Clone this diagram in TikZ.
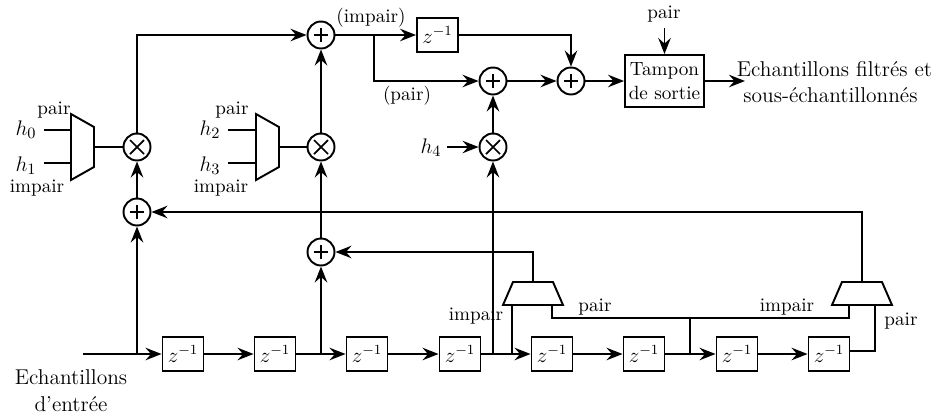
\documentclass[tikz,border=0pt]{standalone}
\usepackage{amsmath}
\usetikzlibrary{arrows.meta,calc}
\tikzset{
  wire/.style={line width=1.1pt},
  flow/.style={wire,-{Stealth[length=3.2mm,width=2.5mm,inset=1.1mm]}},
  thinflow/.style={line width=0.7pt,-{Stealth[length=3.2mm,width=2.5mm,inset=1.1mm]}},
  delay/.style={draw,line width=1.1pt,minimum width=0.82cm,minimum height=0.68cm,inner sep=0pt,font=\large},% z^-1 box
  plusnode/.style={circle,draw,line width=1.1pt,minimum size=0.54cm,inner sep=0pt,
    path picture={\draw[line width=1pt] ($(path picture bounding box.center)+(-7,0)$) -- ($(path picture bounding box.center)+(7,0)$)
      ($(path picture bounding box.center)+(0,-7)$) -- ($(path picture bounding box.center)+(0,7)$);}},
  timesnode/.style={circle,draw,line width=1.1pt,minimum size=0.54cm,inner sep=0pt,
    path picture={\draw[line width=1pt] ($(path picture bounding box.center)+(-7,-7)$) -- ($(path picture bounding box.center)+(7,7)$)
      ($(path picture bounding box.center)+(-7,7)$) -- ($(path picture bounding box.center)+(7,-7)$);}},
  tampon/.style={draw,line width=1.1pt,minimum width=1.58cm,minimum height=1.04cm,inner sep=0pt,align=center,font=\fontsize{10.9}{13}\selectfont},
  lab/.style={inner sep=0pt,font=\fontsize{10.9}{13}\selectfont},
  biglab/.style={inner sep=0pt,font=\fontsize{12.2}{15}\selectfont},
}
\newcommand{\muxv}[3]{% name, x, y : opens to the right
  \draw[wire] (#2,#3-33) -- (#2+23,#3-20) -- (#2+23,#3+20) -- (#2,#3+33) -- cycle;
  \coordinate (#1-a) at (#2,#3-17);
  \coordinate (#1-b) at (#2,#3+16);
  \coordinate (#1-out) at (#2+23,#3);
}
\newcommand{\muxh}[2]{% name, x centre : output on top
  \draw[wire] (#2-20,282) -- (#2+20,282) -- (#2+30,305) -- (#2-30,305) -- cycle;
  \coordinate (#1-out) at (#2,282);
}
\begin{document}
\begin{tikzpicture}[x=0.02cm,y=-0.02cm]
  \useasboundingbox (0,0) rectangle (938,417);
  % delay line
  \foreach \n/\x in {1/183,2/275,3/367,4/460,5/552,6/644,7/737,8/829}
    \node[delay] (d\n) at (\x,354) {$z^{-1}$};
  \node[delay] (dtop) at (437.5,35) {$z^{-1}$};
  \node[tampon] (buf) at (664.5,81) {Tampon\\[1pt]de sortie};
  % adders and multipliers
  \node[plusnode] (s1) at (321,35) {};
  \node[plusnode] (s2) at (493,81) {};
  \node[plusnode] (s3) at (571,81) {};
  \node[plusnode] (s4) at (137,212) {};
  \node[plusnode] (s5) at (321,252) {};
  \node[timesnode] (m0) at (137,147) {};
  \node[timesnode] (m1) at (321,147) {};
  \node[timesnode] (m2) at (493,147) {};
  % multiplexers
  \muxv{ma}{71}{147}
  \muxv{mb}{256}{147}
  \muxh{mc}{533}
  \muxh{md}{862}
  % free ends and junctions
  \coordinate (in) at (83,354);
  \coordinate (j1) at (137,354);
  \coordinate (j2) at (321,354);
  \coordinate (j3) at (493,354);
  \coordinate (j4) at (512,354);
  \coordinate (j5) at (690,354);
  \coordinate (odd) at (374,35);
  \coordinate (h0e) at (44,130);
  \coordinate (h1e) at (44,163);
  \coordinate (h2e) at (228,130);
  \coordinate (h3e) at (228,163);
  \coordinate (h4e) at (447,147);
  \coordinate (pe) at (664.5,28);
  \coordinate (oe) at (745,81);
  \coordinate (last) at (875,351);
  % delay line wires
  \draw[wire] (in) -- (j1);
  \draw[flow] (j1) -- (d1);
  \foreach \a/\b in {1/2,2/3,3/4,4/5,5/6,6/7,7/8} \draw[flow] (d\a) -- (d\b);
  % left branch
  \draw[flow] (j1) -- (s4);
  \draw[flow] (s4) -- (m0);
  \draw[flow] (m0) |- (s1);
  \draw[wire] (h0e) -- (ma-a);
  \draw[wire] (h1e) -- (ma-b);
  \draw[wire] (ma-out) -- (m0);
  % middle branch
  \draw[flow] (j2) -- (s5);
  \draw[flow] (s5) -- (m1);
  \draw[flow] (m1) -- (s1);
  \draw[wire] (h2e) -- (mb-a);
  \draw[wire] (h3e) -- (mb-b);
  \draw[wire] (mb-out) -- (m1);
  % right branch
  \draw[flow] (j3) -- (m2);
  \draw[flow] (m2) -- (s2);
  \draw[thinflow] (h4e) -- (m2);
  % output part
  \draw[flow] (s1) -- (dtop);
  \draw[flow] (odd) |- (s2);
  \draw[flow] (dtop) -| (s3);
  \draw[flow] (s2) -- (s3);
  \draw[flow] (s3) -- (buf);
  \draw[flow] (buf) -- (oe);
  \draw[flow] (pe) -- (buf);
  % feedback from the multiplexers
  \draw[flow] (mc-out) |- (s5);
  \draw[flow] (md-out) |- (s4);
  \draw[wire] (j4) -- (512,305);
  \draw[wire] (552,305) |- (849,318) -- (849,305);
  \draw[wire] (j5) -- (690,318);
  \draw[wire] (d8.east |- last) -| (875,305);
  % labels
  \node[biglab] (th0) at (26,130) {$h_0$};
  \node[biglab] (th1) at (26,166) {$h_1$};
  \node[biglab] (th2) at (210,130) {$h_2$};
  \node[biglab] (th3) at (210,166) {$h_3$};
  \node[biglab] (th4) at (431,148) {$h_4$};
  \node[lab] (ta) at (54,110) {pair};
  \node[lab] (tb) at (37,188) {impair};
  \node[lab] (tc) at (232,110) {pair};
  \node[lab] (td) at (221,188) {impair};
  \node[lab] (te) at (371,18) {(impair)};
  \node[lab] (tf) at (407,96) {(pair)};
  \node[lab] (tg) at (664,14) {pair};
  \node[lab] (ti) at (476,316) {impair};
  \node[lab] (tj) at (595,307) {pair};
  \node[lab] (tk) at (787,307) {impair};
  \node[lab] (tl) at (901,321) {pair};
  \node[biglab] (tout) at (834.5,69) {Echantillons filtrés et};
  \node[biglab] (tout2) at (830.5,95) {sous-échantillonnés};
  \node[biglab] (tin) at (71,377) {Echantillons};
  \node[biglab] (tin2) at (71,404) {d'entrée};
\end{tikzpicture}
\end{document}
